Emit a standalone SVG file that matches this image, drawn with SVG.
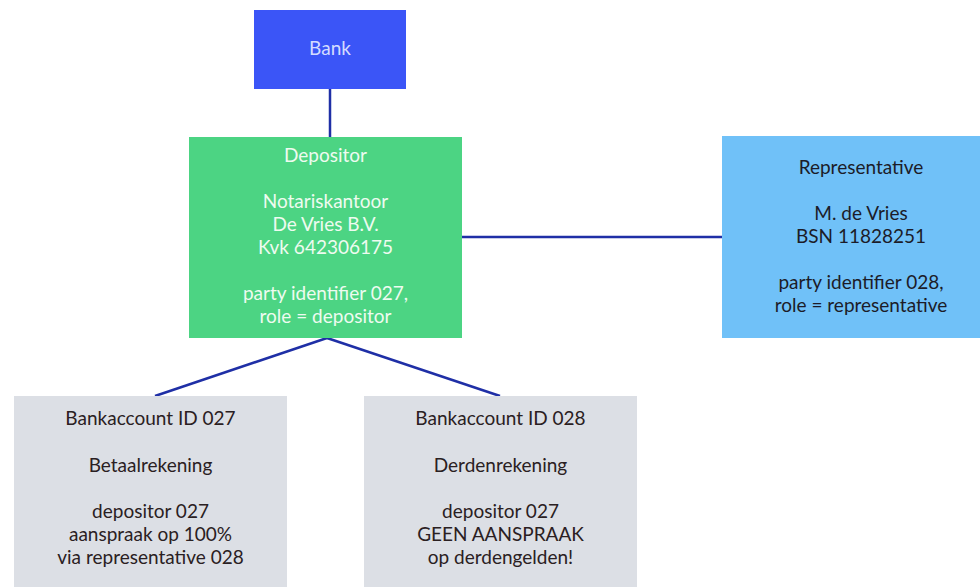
<svg xmlns="http://www.w3.org/2000/svg" width="980" height="587" viewBox="0 0 980 587">
<style>
text{font-family:Lato,"Open Sans","Liberation Sans",sans-serif;font-size:19px;text-anchor:middle}
.l{fill:#eefbf0}
.d{fill:#1c1c28}
.g{fill:#2a2022}
.c{stroke:#1f2fa6;stroke-width:2.5;fill:none}
</style>
<rect width="980" height="587" fill="#ffffff"/>
<g id="connectors">
<line class="c" x1="330" y1="89" x2="330" y2="137"/>
<line class="c" x1="462" y1="237" x2="722" y2="237"/>
<line class="c" x1="327" y1="338" x2="155" y2="396"/>
<line class="c" x1="327" y1="338" x2="500" y2="396"/>
</g>
<g id="bank">
<rect x="254" y="10" width="152" height="79" fill="#3b55f7"/>
<text x="330" y="55" fill="#d4dcff">Bank</text>
</g>
<g id="depositor">
<rect x="189" y="137" width="273" height="201" fill="#4cd483"/>
<text class="l" x="325.5" y="162">Depositor</text>
<text class="l" x="325.5" y="208">Notariskantoor</text>
<text class="l" x="325.5" y="231">De Vries B.V.</text>
<text class="l" x="325.5" y="254">Kvk 642306175</text>
<text class="l" x="325.5" y="300">party identifier 027,</text>
<text class="l" x="325.5" y="323">role = depositor</text>
</g>
<g id="representative">
<rect x="722" y="136" width="258" height="202" fill="#70c1f8"/>
<text class="d" x="861" y="174">Representative</text>
<text class="d" x="861" y="220">M. de Vries</text>
<text class="d" x="861" y="243">BSN 11828251</text>
<text class="d" x="861" y="289">party identifier 028,</text>
<text class="d" x="861" y="312">role = representative</text>
</g>
<g id="account027">
<rect x="14" y="396" width="273" height="191" fill="#dcdfe5"/>
<text class="g" x="150.5" y="425">Bankaccount ID 027</text>
<text class="g" x="150.5" y="472">Betaalrekening</text>
<text class="g" x="150.5" y="518">depositor 027</text>
<text class="g" x="150.5" y="541">aanspraak op 100%</text>
<text class="g" x="150.5" y="564">via representative 028</text>
</g>
<g id="account028">
<rect x="364" y="396" width="273" height="191" fill="#dcdfe5"/>
<text class="g" x="500.5" y="425">Bankaccount ID 028</text>
<text class="g" x="500.5" y="472">Derdenrekening</text>
<text class="g" x="500.5" y="518">depositor 027</text>
<text class="g" x="500.5" y="541">GEEN AANSPRAAK</text>
<text class="g" x="500.5" y="564">op derdengelden!</text>
</g>
</svg>
